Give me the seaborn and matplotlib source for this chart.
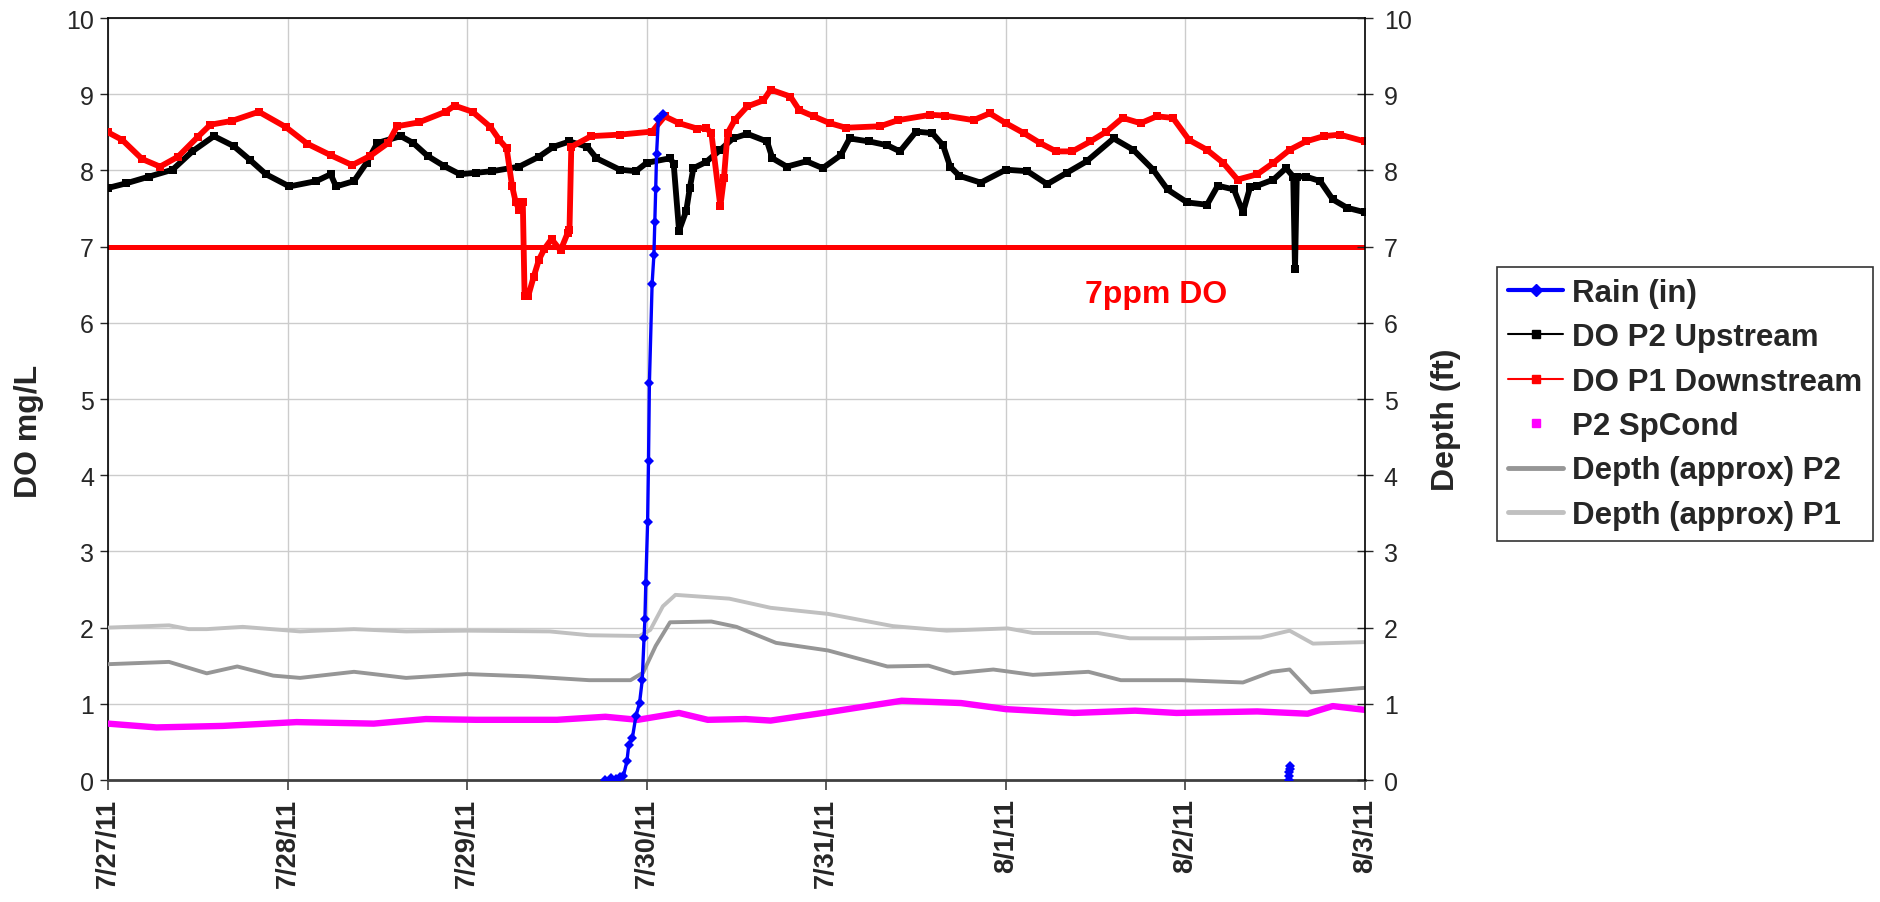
import matplotlib
matplotlib.use('Agg')
import matplotlib.pyplot as plt
from matplotlib.lines import Line2D
import seaborn as sns

# x values are days since 7/27/11 00:00
day_labels = ['7/27/11', '7/28/11', '7/29/11', '7/30/11', '7/31/11', '8/1/11', '8/2/11', '8/3/11']

# rain (in), two separate events
rain_day = [2.77, 2.80, 2.83, 2.85, 2.87, 2.89, 2.90, 2.92, 2.94, 2.96, 2.975, 2.985, 2.99,
            2.995, 3.005, 3.01, 3.015, 3.03, 3.04, 3.045, 3.05, 3.055, 3.065, 3.09]
rain_in = [0.00, 0.03, 0.01, 0.04, 0.05, 0.25, 0.46, 0.55, 0.84, 1.01, 1.31, 1.86, 2.11,
           2.59, 3.38, 4.19, 5.21, 6.51, 6.89, 7.32, 7.75, 8.22, 8.68, 8.74]
rain2_day = [6.575, 6.577, 6.579, 6.581, 6.583]
rain2_in = [0.00, 0.05, 0.10, 0.15, 0.19]

# DO P2 upstream (mg/L)
p2_day = [0.00, 0.10, 0.23, 0.36, 0.47, 0.59, 0.70, 0.79, 0.88, 1.01, 1.16, 1.24, 1.27, 1.37,
          1.44, 1.50, 1.63, 1.70, 1.78, 1.87, 1.96, 2.05, 2.14, 2.29, 2.40, 2.48, 2.57, 2.67,
          2.72, 2.85, 2.94, 3.00, 3.13, 3.15, 3.18, 3.22, 3.24, 3.26, 3.33, 3.41, 3.48, 3.56,
          3.67, 3.70, 3.78, 3.89, 3.98, 4.08, 4.13, 4.24, 4.34, 4.41, 4.50, 4.59, 4.65, 4.69,
          4.74, 4.86, 5.00, 5.12, 5.23, 5.34, 5.45, 5.60, 5.71, 5.82, 5.90, 6.01, 6.12, 6.18,
          6.27, 6.32, 6.36, 6.40, 6.49, 6.56, 6.60, 6.61, 6.62, 6.67, 6.75, 6.82, 6.90, 7.00]
p2_do = [7.77, 7.83, 7.92, 8.01, 8.25, 8.45, 8.32, 8.14, 7.95, 7.79, 7.86, 7.95, 7.79, 7.86,
         8.10, 8.36, 8.45, 8.36, 8.19, 8.06, 7.95, 7.97, 7.99, 8.05, 8.18, 8.31, 8.38, 8.31,
         8.16, 8.01, 7.99, 8.10, 8.16, 8.09, 7.21, 7.47, 7.77, 8.03, 8.11, 8.27, 8.42, 8.48,
         8.38, 8.16, 8.05, 8.12, 8.03, 8.20, 8.42, 8.38, 8.33, 8.25, 8.51, 8.49, 8.33, 8.05,
         7.93, 7.84, 8.01, 7.99, 7.82, 7.97, 8.12, 8.42, 8.27, 8.01, 7.75, 7.58, 7.55, 7.80,
         7.75, 7.45, 7.78, 7.80, 7.88, 8.03, 7.92, 6.70, 7.92, 7.92, 7.86, 7.62, 7.51, 7.45]

# DO P1 downstream (mg/L)
p1_day = [0.00, 0.08, 0.19, 0.29, 0.39, 0.50, 0.57, 0.69, 0.84, 0.99, 1.11, 1.24, 1.36, 1.46,
          1.56, 1.61, 1.73, 1.88, 1.93, 2.03, 2.13, 2.18, 2.22, 2.25, 2.27, 2.29, 2.31, 2.32,
          2.34, 2.37, 2.40, 2.43, 2.47, 2.52, 2.56, 2.57, 2.58, 2.69, 2.85, 3.03, 3.10, 3.18,
          3.28, 3.33, 3.36, 3.41, 3.43, 3.45, 3.49, 3.56, 3.65, 3.69, 3.80, 3.85, 3.93, 4.02,
          4.11, 4.30, 4.40, 4.58, 4.66, 4.82, 4.91, 5.00, 5.10, 5.19, 5.28, 5.37, 5.47, 5.56,
          5.65, 5.75, 5.84, 5.93, 6.02, 6.12, 6.21, 6.29, 6.40, 6.49, 6.58, 6.67, 6.77, 6.86, 7.00]
p1_do = [8.50, 8.40, 8.15, 8.05, 8.18, 8.44, 8.60, 8.65, 8.77, 8.57, 8.35, 8.20, 8.07, 8.19,
         8.36, 8.58, 8.63, 8.77, 8.85, 8.77, 8.57, 8.40, 8.29, 7.80, 7.59, 7.48, 7.58, 6.35,
         6.35, 6.60, 6.83, 6.97, 7.10, 6.95, 7.18, 7.22, 8.31, 8.45, 8.47, 8.51, 8.71, 8.62,
         8.55, 8.56, 8.49, 7.53, 7.90, 8.49, 8.66, 8.84, 8.92, 9.06, 8.97, 8.79, 8.71, 8.62,
         8.56, 8.58, 8.66, 8.73, 8.72, 8.66, 8.75, 8.62, 8.49, 8.36, 8.25, 8.25, 8.38, 8.51,
         8.69, 8.62, 8.71, 8.69, 8.40, 8.27, 8.10, 7.88, 7.95, 8.10, 8.27, 8.38, 8.45, 8.47, 8.38]

# P2 specific conductance
spc_day = [0.00, 0.27, 0.64, 1.05, 1.48, 1.77, 2.05, 2.50, 2.77, 2.95, 3.18, 3.34, 3.55, 3.69,
           4.01, 4.42, 4.75, 5.00, 5.38, 5.72, 5.95, 6.40, 6.68, 6.82, 7.00]
spc = [0.74, 0.69, 0.71, 0.76, 0.74, 0.80, 0.79, 0.79, 0.83, 0.79, 0.88, 0.79, 0.80, 0.78,
       0.89, 1.04, 1.01, 0.93, 0.88, 0.91, 0.88, 0.90, 0.87, 0.97, 0.92]

# depth (ft)
dep2_day = [0.00, 0.34, 0.55, 0.72, 0.92, 1.07, 1.37, 1.66, 2.00, 2.34, 2.68, 2.91, 2.98, 3.05,
            3.13, 3.36, 3.50, 3.72, 4.01, 4.34, 4.57, 4.71, 4.93, 5.15, 5.46, 5.64, 5.98, 6.32,
            6.48, 6.58, 6.70, 7.00]
dep2 = [1.52, 1.55, 1.40, 1.49, 1.37, 1.34, 1.42, 1.34, 1.39, 1.36, 1.31, 1.31, 1.41, 1.76,
        2.07, 2.08, 2.01, 1.80, 1.70, 1.49, 1.50, 1.40, 1.45, 1.38, 1.42, 1.31, 1.31, 1.28,
        1.42, 1.45, 1.15, 1.21]
dep1_day = [0.00, 0.34, 0.45, 0.55, 0.75, 1.07, 1.37, 1.66, 2.00, 2.46, 2.68, 2.96, 3.02, 3.09,
            3.16, 3.46, 3.69, 4.01, 4.37, 4.67, 5.01, 5.15, 5.51, 5.69, 6.01, 6.42, 6.58, 6.71, 7.00]
dep1 = [2.00, 2.03, 1.98, 1.98, 2.01, 1.95, 1.98, 1.95, 1.96, 1.95, 1.90, 1.89, 1.97, 2.28,
        2.43, 2.38, 2.26, 2.18, 2.02, 1.96, 1.99, 1.93, 1.93, 1.86, 1.86, 1.87, 1.96, 1.79, 1.81]

do_limit = 7

sns.set_style('white')
plt.rcParams['font.family'] = ['Liberation Sans', 'DejaVu Sans']

fig = plt.figure(figsize=(18.81, 9.03), dpi=100)
ax = fig.add_axes([0.0574, 0.1351, 0.6683, 0.8438])

ax.axhline(do_limit, color='#ff0000', lw=3.6, zorder=2)

sns.lineplot(x=dep1_day, y=dep1, ax=ax, color='#c0c0c0', lw=2.8,
             estimator=None, sort=False, legend=False, zorder=3)
sns.lineplot(x=dep2_day, y=dep2, ax=ax, color='#969696', lw=2.8,
             estimator=None, sort=False, legend=False, zorder=3)
sns.lineplot(x=spc_day, y=spc, ax=ax, color='#ff00ff', lw=4.6,
             estimator=None, sort=False, legend=False, zorder=4)
sns.lineplot(x=p2_day, y=p2_do, ax=ax, color='black', lw=4.2, marker='s', markersize=6,
             markeredgewidth=0, estimator=None, sort=False, legend=False, zorder=5)
sns.lineplot(x=p1_day, y=p1_do, ax=ax, color='#ff0000', lw=4.2, marker='s', markersize=6,
             markeredgewidth=0, estimator=None, sort=False, legend=False, zorder=5)
for d, r in [(rain_day, rain_in), (rain2_day, rain2_in)]:
    sns.lineplot(x=d, y=r, ax=ax, color='#0000ff', lw=2.4, marker='D', markersize=5,
                 markeredgewidth=0, estimator=None, sort=False, legend=False, zorder=6)

ax.text(5.835, 6.38, '7ppm DO', color='#ff0000', fontsize=23, fontweight='bold',
        ha='center', va='center')

ax.set_xlim(0, 7)
ax.set_ylim(0, 10)
ax.set_xticks(range(len(day_labels)))
ax.set_xticklabels(day_labels, rotation=90, fontweight='bold', fontsize=19.5)
ax.set_yticks(range(11))
ax.grid(True, color='#cccccc', lw=1)
ax.set_axisbelow(True)
ax.tick_params(axis='y', direction='out', length=6, width=1, labelsize=18, pad=4, left=True)
ax.tick_params(axis='x', direction='out', length=7, width=1.2, pad=6, bottom=True,
               color='#404040')
ax.set_xlabel('')
ax.set_ylabel('DO mg/L', fontsize=23, fontweight='bold')
ax.yaxis.set_label_coords(-0.051, 0.459)
for s in ['left', 'top']:
    ax.spines[s].set_color('black')
    ax.spines[s].set_linewidth(1.2)
ax.spines['bottom'].set_color('#404040')
ax.spines['bottom'].set_linewidth(2)
ax.spines['right'].set_visible(False)

ax2 = ax.twinx()
ax2.set_ylim(0, 10)
ax2.set_yticks(range(11))
ax2.tick_params(axis='y', direction='inout', length=11, width=1, labelsize=18, pad=8, right=True)
ax2.set_ylabel('Depth (ft)', fontsize=23, fontweight='bold')
ax2.yaxis.set_label_coords(1.0525, 0.474)
for s in ['left', 'top', 'bottom']:
    ax2.spines[s].set_visible(False)
ax2.spines['right'].set_color('black')
ax2.spines['right'].set_linewidth(1.2)
ax2.grid(False)

handles = [
    Line2D([], [], color='#0000ff', lw=3, marker='D', markersize=6),
    Line2D([], [], color='black', lw=1.5, marker='s', markersize=6),
    Line2D([], [], color='#ff0000', lw=1.5, marker='s', markersize=6),
    Line2D([], [], color='#ff00ff', lw=0, marker='s', markersize=6),
    Line2D([], [], color='#969696', lw=3.5),
    Line2D([], [], color='#c0c0c0', lw=3.5),
]
labels = ['Rain (in)', 'DO P2 Upstream', 'DO P1 Downstream', 'P2 SpCond',
          'Depth (approx) P2', 'Depth (approx) P1']
leg = fig.legend(handles, labels, loc='upper left', bbox_to_anchor=(0.7877, 0.7205),
                 prop={'weight': 'bold', 'size': 22.5}, frameon=True, fancybox=False,
                 edgecolor='black', handlelength=1.75, handletextpad=0.3,
                 labelspacing=0.46, borderpad=0.35)
leg.get_frame().set_linewidth(1.2)

fig.savefig('out.png', dpi=100, facecolor='white')
